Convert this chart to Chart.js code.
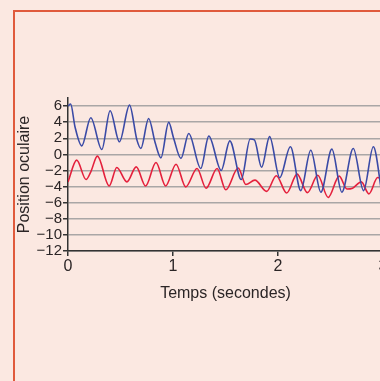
<!DOCTYPE html>
<html>
<head>
<meta charset="utf-8">
<script src="https://cdn.jsdelivr.net/npm/chart.js@4"></script>
<style>
  html, body { margin: 0; padding: 0; background: #fbe8e1; overflow: hidden; width: 380px; height: 381px; }
  #cadre { position: absolute; left: 13px; top: 10px; width: 420px; height: 420px;
           border-left: 2px solid #e05a3c; border-top: 2px solid #e05a3c; }
  #graphe { position: absolute; left: 0; top: 0; }
</style>
</head>
<body>
<div id="cadre"></div>
<canvas id="graphe" width="400" height="381"></canvas>
<script>
// Temps (s) et position oculaire
const tempsBleu = [0, 0.025, 0.067, 0.131, 0.217, 0.322, 0.401, 0.49, 0.586, 0.656, 0.694, 0.768, 0.831, 0.885,
  0.959, 1.006, 1.076, 1.15, 1.264, 1.341, 1.459, 1.541, 1.65, 1.735, 1.775, 1.844, 1.92, 2.016, 2.118,
  2.217, 2.312, 2.408, 2.513, 2.608, 2.717, 2.815, 2.908, 2.99];
const posBleu = [6.0, 6.25, 3.4, 1.06, 4.55, 0.6, 5.42, 1.56, 6.12, 1.8, 0.75, 4.46, 1.4, -0.43,
  3.97, 2.0, -0.5, 2.6, -1.75, 2.27, -2.0, 1.68, -3.13, 1.9, 1.8, -1.6, 2.2, -2.9, 0.95,
  -4.5, 0.52, -4.7, 0.65, -4.7, 0.73, -4.5, 0.94, -4.9];

const tempsRouge = [0, 0.083, 0.172, 0.217, 0.28, 0.392, 0.465, 0.561, 0.65, 0.739, 0.838, 0.93, 1.029,
  1.121, 1.229, 1.315, 1.42, 1.503, 1.621, 1.694, 1.78, 1.892, 1.984, 2.083, 2.182, 2.28, 2.379,
  2.478, 2.583, 2.656, 2.71, 2.793, 2.866, 2.949, 2.99];
const posRouge = [-3.42, -0.72, -3.13, -2.17, -0.22, -3.92, -1.63, -3.42, -1.55, -3.92, -1.01, -3.92, -1.22,
  -4.04, -1.76, -4.2, -1.76, -4.4, -1.7, -3.75, -3.2, -4.6, -2.65, -4.8, -2.45, -4.75, -2.6,
  -5.35, -2.7, -4.3, -4.2, -3.42, -4.9, -2.88, -3.1];

const ticksX = [0, 1, 2, 3];
const ticksY = [-12, -10, -8, -6, -4, -2, 0, 2, 4, 6];

const texte = "#2b2526";
const police = "'Liberation Sans', Arial, sans-serif";

new Chart(document.getElementById("graphe"), {
  type: "line",
  data: {
    datasets: [
      {
        data: tempsBleu.map((t, i) => ({ x: t, y: posBleu[i] })),
        borderColor: "#3a4aa6",
        borderWidth: 1.6,
        pointRadius: 0,
        cubicInterpolationMode: "monotone",
      },
      {
        data: tempsRouge.map((t, i) => ({ x: t, y: posRouge[i] })),
        borderColor: "#e4203c",
        borderWidth: 1.6,
        pointRadius: 0,
        cubicInterpolationMode: "monotone",
      },
    ],
  },
  options: {
    responsive: false,
    animation: false,
    devicePixelRatio: 1,
    layout: { padding: { top: 98, left: 0, right: 17, bottom: 78 } },
    plugins: { legend: { display: false }, tooltip: { enabled: false } },
    scales: {
      x: {
        type: "linear",
        min: 0,
        max: 3,
        afterFit: (s) => { s.height = 52; },
        afterBuildTicks: (s) => { s.ticks = ticksX.map((v) => ({ value: v })); },
        grid: { drawOnChartArea: false, drawTicks: true, tickLength: 5, color: "#333", lineWidth: 1.5 },
        border: { color: "#333", width: 1.5 },
        ticks: { color: texte, font: { family: police, size: 16 }, padding: 1, autoSkip: false, maxRotation: 0 },
        title: { display: true, text: "Temps (secondes)", color: texte,
                 font: { family: police, size: 16 }, padding: 0 },
      },
      y: {
        min: -12,
        max: 7,
        afterFit: (s) => { s.width = 68; },
        afterBuildTicks: (s) => { s.ticks = ticksY.map((v) => ({ value: v })); },
        grid: { color: "#a9a6a6", lineWidth: 1.5, tickColor: "#333", tickLength: 5 },
        border: { color: "#333", width: 1.5 },
        ticks: { color: texte, font: { family: police, size: 15 }, padding: 1, autoSkip: false,
                 callback: (v) => String(v).replace("-", "\u2212") },
        title: { display: true, text: "Position oculaire", color: texte,
                 font: { family: police, size: 16 }, padding: { top: 15, bottom: 0 } },
      },
    },
  },
});
</script>
</body>
</html>
